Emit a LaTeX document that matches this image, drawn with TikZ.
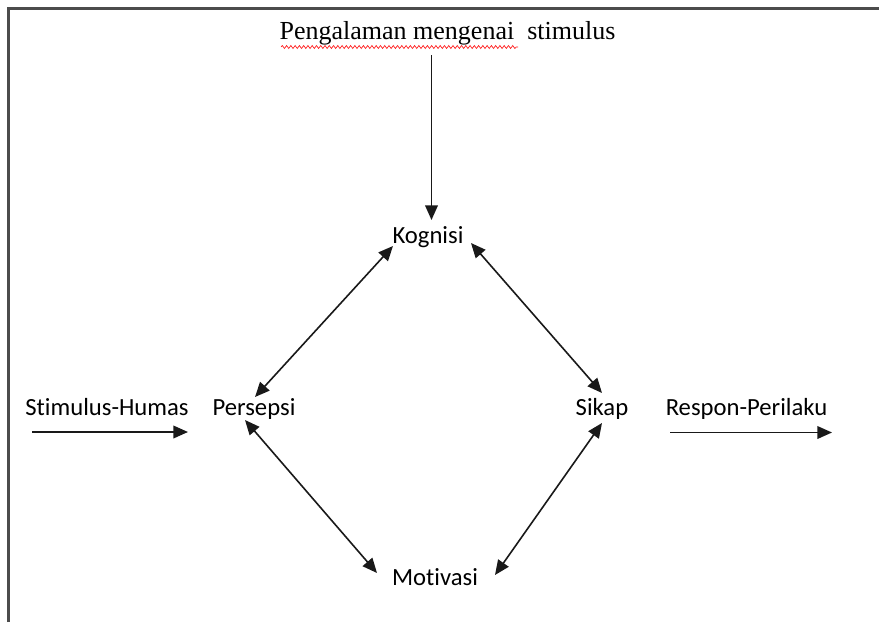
\documentclass[tikz,border=0pt]{standalone}
\usepackage{fontspec}
\setmainfont[Ligatures=NoCommon]{Carlito}
\newfontfamily\serifhead{Liberation Serif}
\usetikzlibrary{arrows.meta,decorations.pathmorphing}

\begin{document}
\begin{tikzpicture}[x=0.75pt,y=0.75pt,yscale=-1,xscale=1,
  lbl/.style={anchor=base,inner sep=0pt,font=\fontsize{18.5}{22}\selectfont},
  headlbl/.style={anchor=base,inner sep=0pt,font=\serifhead\fontsize{19.5}{23}\selectfont},
  link/.style={draw=black!90,line width=1.2pt,{Triangle[length=11pt,width=9.5pt]}-{Triangle[length=11pt,width=9.5pt]}},
  flow/.style={draw=black!90,line width=1.2pt,-{Triangle[length=11pt,width=9.5pt]}}]
\useasboundingbox (0,0) rectangle (879,622);

%Shape: Frame
\draw [line width=1.8pt,color=black!70]  (8.5,622) -- (8.5,8.5) -- (879,8.5) ;

% Text Node
\node[headlbl] (peng) at (447.5,39) {Pengalaman mengenai\ \ stimulus};
% Text Node
\node[lbl] (kog) at (428,243) {Kognisi};
% Text Node
\node[lbl] (stim) at (107,415) {Stimulus-Humas};
% Text Node
\node[lbl] (pers) at (254,415) {Persepsi};
% Text Node
\node[lbl] (sik) at (602,415) {Sikap};
% Text Node
\node[lbl] (resp) at (746.5,415) {Respon-Perilaku};
% Text Node
\node[lbl] (mot) at (435,585) {Motivasi};

%Spell check underline
\draw [color=red!90,line width=0.5pt,decorate,decoration={snake,amplitude=1.1pt,segment length=3.2pt}]  (281,47) -- (518,47) ;

%Straight Lines
\draw [flow]  ([shift={(-16,16)}]peng.base) -- ([shift={(3.5,-23)}]kog.base) ;
\draw [flow]  ([shift={(-75,17)}]stim.base) -- ([shift={(81,17)}]stim.base) ;
\draw [flow]  ([shift={(-76.5,17.5)}]resp.base) -- ([shift={(85.5,17.5)}]resp.base) ;

% Connection
\draw [link]  ([shift={(-35,3)}]kog.base) -- ([shift={(1,-18)}]pers.base) ;
% Connection
\draw [link]  ([shift={(43,0)}]kog.base) -- ([shift={(0,-22)}]sik.base) ;
% Connection
\draw [link]  ([shift={(-9,5)}]pers.base) -- ([shift={(-58,-12)}]mot.base) ;
% Connection
\draw [link]  ([shift={(0,8)}]sik.base) -- ([shift={(60,-10)}]mot.base) ;

\end{tikzpicture}
\end{document}
